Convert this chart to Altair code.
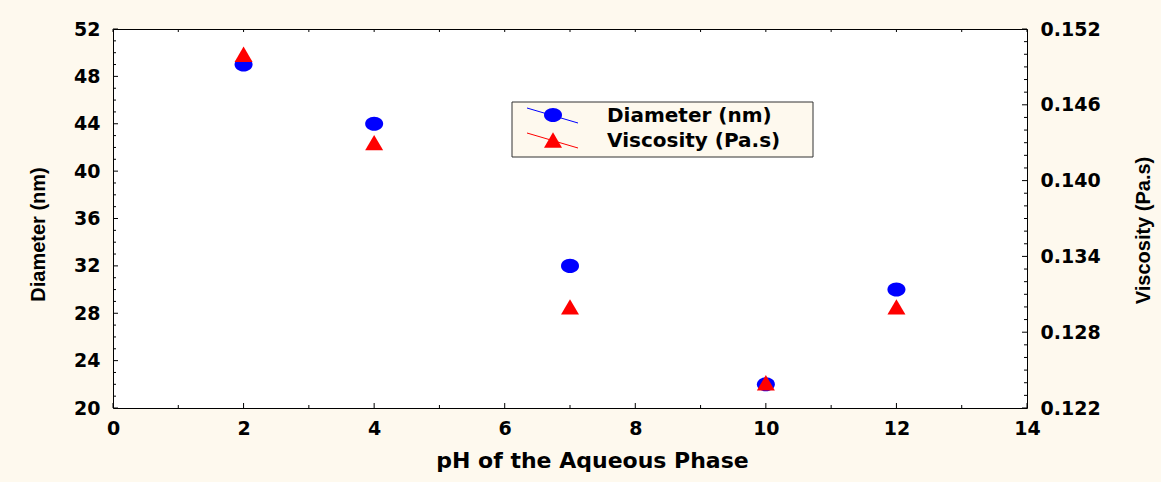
import altair as alt
import pandas as pd

# Measured droplet diameter and viscosity against the pH of the aqueous phase
ph = [2, 4, 7, 10, 12]
diameter_nm = [49, 44, 32, 22, 30]
viscosity_pas = [0.150, 0.143, 0.130, 0.124, 0.130]

# Axis tick labels
x_ticks = [0, 2, 4, 6, 8, 10, 12, 14]
d_ticks = [20, 24, 28, 32, 36, 40, 44, 48, 52]
v_ticks = [0.122, 0.128, 0.134, 0.140, 0.146, 0.152]

# Legend entries
series_names = ["Diameter (nm)", "Viscosity (Pa.s)"]
series_colors = ["#0000ff", "#ff0000"]

W, H = 914, 379
BG = "#fef9ee"
TICK_FONT = "DejaVu Sans"
TITLE_FONT = "Liberation Sans"

# marker outlines: a slightly flattened disc and an upward triangle
ELLIPSE = "M-1,0A1,0.78,0,1,0,1,0A1,0.78,0,1,0,-1,0Z"
TRIANGLE = "M0,-0.85L1,0.85L-1,0.85Z"
MSIZE = 324

data = pd.DataFrame({"pH": ph, "Diameter": diameter_nm, "Viscosity": viscosity_pas})

x_scale = alt.Scale(domain=[0, 14], nice=False, zero=False)
d_scale = alt.Scale(domain=[20, 52], nice=False, zero=False)
v_scale = alt.Scale(domain=[0.122, 0.152], nice=False, zero=False)

x_enc = alt.X(
    "pH:Q",
    scale=x_scale,
    axis=alt.Axis(
        values=x_ticks, format="d", title="pH of the Aqueous Phase", domain=False,
        ticks=False, grid=False, labelFlush=False, labelOverlap=False,
        labelFont=TICK_FONT, labelFontWeight="bold", labelFontSize=19,
        labelColor="#000", labelPadding=11,
        titleFont=TICK_FONT, titleFontWeight="bold", titleFontSize=22, titleColor="#000",
        titleX=479, titleY=59, titleBaseline="alphabetic", titleAlign="center",
    ),
)

diam = alt.Chart(data).mark_point(
    shape=ELLIPSE, filled=True, size=MSIZE, color=series_colors[0], opacity=1
).encode(
    x=x_enc,
    y=alt.Y(
        "Diameter:Q",
        scale=d_scale,
        axis=alt.Axis(
            orient="left", values=d_ticks, format="d", title="Diameter (nm)", domain=False,
            ticks=False, grid=False, labelFlush=False, labelOverlap=False,
            labelFont=TICK_FONT, labelFontWeight="bold", labelFontSize=19,
            labelColor="#000", labelPadding=13,
            titleFont=TITLE_FONT, titleFontWeight="bold", titleFontSize=20,
            titleColor="#000", titleAngle=270, titleX=-69, titleY=205,
            titleAlign="center", titleBaseline="alphabetic",
        ),
    ),
)

visc = alt.Chart(data).mark_point(
    shape=TRIANGLE, filled=True, size=MSIZE, color=series_colors[1], opacity=1
).encode(
    x=alt.X("pH:Q", scale=x_scale),
    y=alt.Y(
        "Viscosity:Q",
        scale=v_scale,
        axis=alt.Axis(
            orient="right", values=v_ticks, format=".3f", title="Viscosity (Pa.s)",
            domain=False, ticks=False, grid=False, labelFlush=False, labelOverlap=False,
            labelFont=TICK_FONT, labelFontWeight="bold", labelFontSize=19,
            labelColor="#000", labelPadding=13,
            titleFont=TITLE_FONT, titleFontWeight="bold", titleFontSize=20,
            titleColor="#000", titleAngle=270, titleX=122, titleY=201,
            titleAlign="center", titleBaseline="alphabetic",
        ),
    ),
)

# inward tick marks on all four sides of the frame
MAJ, MIN = 5, 3
left_vals = pd.DataFrame({"d": list(range(20, 53))})
left_vals["major"] = left_vals["d"] % 4 == 0
right_vals = pd.DataFrame({"v": [round(0.122 + 0.001 * i, 3) for i in range(31)]})
right_vals["major"] = [i % 6 == 0 for i in range(31)]
bottom_vals = pd.DataFrame({"pH": list(range(0, 15))})
bottom_vals["major"] = bottom_vals["pH"] % 2 == 0


def side_ticks(df, field, scale, major, length, side):
    sub = df[df["major"] == major]
    base = alt.Chart(sub).mark_rule(color="#000", strokeWidth=1)
    if side == "left":
        return base.encode(y=alt.Y(f"{field}:Q", scale=scale, axis=None),
                           x=alt.value(0), x2=alt.value(length))
    if side == "right":
        return base.encode(y=alt.Y(f"{field}:Q", scale=scale, axis=None),
                           x=alt.value(W - length), x2=alt.value(W))
    if side == "bottom":
        return base.encode(x=alt.X(f"{field}:Q", scale=scale),
                           y=alt.value(H - length), y2=alt.value(H))
    return base.encode(x=alt.X(f"{field}:Q", scale=scale),
                       y=alt.value(0), y2=alt.value(length))


ticks = [
    side_ticks(left_vals, "d", d_scale, True, MAJ, "left"),
    side_ticks(left_vals, "d", d_scale, False, MIN, "left"),
    side_ticks(right_vals, "v", v_scale, True, MAJ, "right"),
    side_ticks(right_vals, "v", v_scale, False, MIN, "right"),
    side_ticks(bottom_vals, "pH", x_scale, True, MAJ, "bottom"),
    side_ticks(bottom_vals, "pH", x_scale, False, MIN, "bottom"),
    side_ticks(bottom_vals, "pH", x_scale, True, MIN, "top"),
    side_ticks(bottom_vals, "pH", x_scale, False, MIN, "top"),
]

# legend box with a line-and-marker key per series
one = pd.DataFrame({"k": [0]})
LX0, LX1, LY0, LY1 = 399, 700, 73, 128
legend_box = alt.Chart(one).mark_rect(fill=BG, stroke="#333", strokeWidth=1).encode(
    x=alt.value(LX0), x2=alt.value(LX1), y=alt.value(LY0), y2=alt.value(LY1)
)
row_y = [86, 111]
legend_layers = [legend_box]
for name, col, shape, yc in zip(series_names, series_colors, [ELLIPSE, TRIANGLE], row_y):
    legend_layers.append(
        alt.Chart(one).mark_rule(color=col, strokeWidth=1).encode(
            x=alt.value(414), y=alt.value(yc - 7), x2=alt.value(465), y2=alt.value(yc + 8)
        )
    )
    legend_layers.append(
        alt.Chart(one).mark_point(shape=shape, filled=True, size=MSIZE, color=col, opacity=1).encode(
            x=alt.value(440), y=alt.value(yc)
        )
    )
    legend_layers.append(
        alt.Chart(pd.DataFrame({"label": [name]})).mark_text(
            align="left", baseline="middle", font=TICK_FONT, fontWeight="bold",
            fontSize=20, color="#000"
        ).encode(x=alt.value(494), y=alt.value(yc + 1), text="label:N")
    )

chart = (
    alt.layer(diam, visc, *ticks, *legend_layers)
    .resolve_scale(y="independent")
    .properties(
        width=W,
        height=H,
        background=BG,
        autosize=alt.AutoSizeParams(type="none"),
        padding={"left": 113, "top": 29, "right": 134, "bottom": 74},
    )
    .configure_view(fill="#ffffff", stroke="#000", strokeWidth=1)
)

chart.save("out.html", embed_options={"renderer": "svg", "actions": False})
